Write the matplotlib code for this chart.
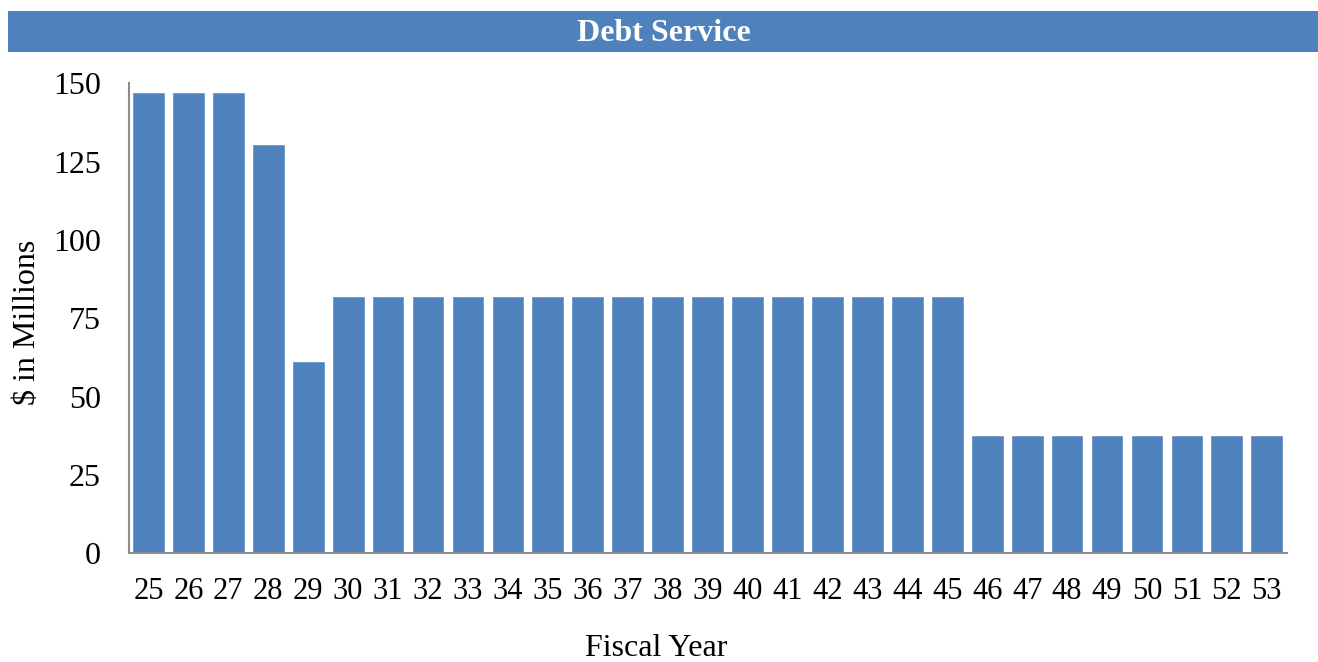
import matplotlib
matplotlib.use("Agg")
import matplotlib.pyplot as plt
from matplotlib.patches import Rectangle

years = [str(y) for y in range(25, 54)]
debt = [147, 147, 147, 130.5, 61] + [82] * 16 + [37.5] * 8

BLUE = "#4F81BD"
plt.rcParams["font.family"] = ["Liberation Serif", "DejaVu Serif"]

fig = plt.figure(figsize=(13.18, 6.62), dpi=100)
ax = fig.add_axes([0.0975, 0.1639, 0.8788, 0.71])

# title banner
fig.patches.append(Rectangle((0.006, 0.9215), 0.994, 0.062, transform=fig.transFigure,
                             facecolor=BLUE, edgecolor="none"))
fig.text(0.504, 0.949, "Debt Service", color="white", fontsize=23, fontweight="bold",
         ha="center", va="center")

x = range(len(years))
ax.bar(x, debt, width=0.77, color=BLUE, edgecolor="#6F97CC", linewidth=0.6)
ax.set_xlim(-0.5, len(years) - 0.5)
ax.set_ylim(0, 150)
ax.set_yticks([0, 25, 50, 75, 100, 125, 150])
ax.set_xticks(list(x))
ax.set_xticklabels(years)
ax.tick_params(axis="y", length=0, pad=20, labelsize=23)
ax.tick_params(axis="x", length=0, pad=17, labelsize=22)

for s in ["top", "right"]:
    ax.spines[s].set_visible(False)
for s in ["left", "bottom"]:
    ax.spines[s].set_color("#8C8C8C")
    ax.spines[s].set_linewidth(1.5)

ax.set_xlabel("Fiscal Year", fontsize=23)
ax.set_ylabel("$ in Millions", fontsize=23)
ax.xaxis.set_label_coords(0.4555, -0.172)
ax.yaxis.set_label_coords(-0.075, 0.4926)

fig.savefig("out.png", dpi=100)
